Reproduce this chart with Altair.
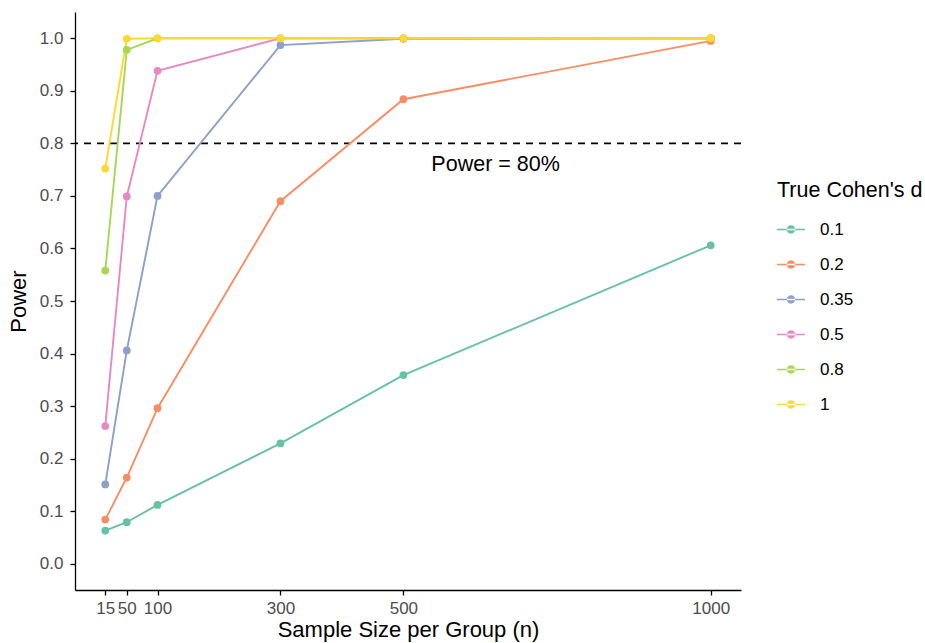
import altair as alt
import pandas as pd

# ---- data ----
sample_sizes = [15, 50, 100, 300, 500, 1000]
effect_labels = ["0.1", "0.2", "0.35", "0.5", "0.8", "1"]
power_d010 = [0.063, 0.079, 0.112, 0.229, 0.359, 0.606]
power_d020 = [0.084, 0.164, 0.296, 0.690, 0.884, 0.995]
power_d035 = [0.151, 0.406, 0.700, 0.987, 0.999, 1.000]
power_d050 = [0.262, 0.699, 0.938, 1.000, 1.000, 1.000]
power_d080 = [0.558, 0.978, 1.000, 1.000, 1.000, 1.000]
power_d100 = [0.752, 0.999, 1.000, 1.000, 1.000, 1.000]
palette = ["#66C2A5", "#FC8D62", "#8DA0CB", "#E78AC3", "#A6D854", "#FFD92F"]
y_ticks = [0.0, 0.1, 0.2, 0.3, 0.4, 0.5, 0.6, 0.7, 0.8, 0.9, 1.0]

series = [power_d010, power_d020, power_d035, power_d050, power_d080, power_d100]
rows = []
for lab, vals in zip(effect_labels, series):
    for n, p in zip(sample_sizes, vals):
        rows.append({"n": n, "power": p, "d": lab})
df = pd.DataFrame(rows)

FONT = "Liberation Sans"
x_scale = alt.Scale(domain=[-34.25, 1049.25], nice=False, zero=False)
y_scale = alt.Scale(domain=[-0.05, 1.05], nice=False, zero=False)

legend_path = ("M-1,-0.06L1,-0.06L1,0.06L-1,0.06Z "
               "M-0.3,0A0.3,0.3 0 1,0 0.3,0A0.3,0.3 0 1,0 -0.3,0Z")

color = alt.Color(
    "d:N",
    sort=effect_labels,
    scale=alt.Scale(domain=effect_labels, range=palette),
    legend=alt.Legend(
        title="True Cohen's d",
        orient="none",
        legendX=702,
        legendY=168,
        symbolType=legend_path,
        symbolSize=784,
        symbolStrokeWidth=0,
        symbolOpacity=1,
        rowPadding=13,
        labelOffset=15,
        titlePadding=14,
    ),
)

x_enc = alt.X(
    "n:Q",
    scale=x_scale,
    axis=alt.Axis(
        title="Sample Size per Group (n)",
        values=sample_sizes,
        format="d",
        grid=False,
        labelFlush=False,
        labelOverlap=False,
    ),
)
y_enc = alt.Y(
    "power:Q",
    scale=y_scale,
    axis=alt.Axis(
        title="Power",
        values=y_ticks,
        format=".1f",
        grid=False,
        labelFlush=False,
        labelOverlap=False,
    ),
)

points = alt.Chart(df).mark_point(filled=True, size=60, opacity=1).encode(x=x_enc, y=y_enc, color=color)
lines = alt.Chart(df).mark_line(strokeWidth=1.9).encode(x=x_enc, y=y_enc, color=color, detail="d:N")

hline = alt.Chart(pd.DataFrame({"y": [0.8]})).mark_rule(
    color="black", strokeWidth=1.7, strokeDash=[7, 6]
).encode(y=alt.Y("y:Q", scale=y_scale))

label = alt.Chart(pd.DataFrame({"x": [650], "y": [0.758], "t": ["Power = 80%"]})).mark_text(
    font=FONT, fontSize=21.5, color="black", baseline="middle", align="center"
).encode(x=alt.X("x:Q", scale=x_scale), y=alt.Y("y:Q", scale=y_scale), text="t:N")

chart = alt.layer(hline, lines, points, label).properties(
    width=666,
    height=578,
    autosize=alt.AutoSizeParams(type="none"),
    padding={"left": 75, "top": 12, "right": 184, "bottom": 53},
).configure_view(stroke=None).configure_axis(
    domainColor="black",
    domainWidth=1.3,
    tickColor="black",
    tickWidth=1.3,
    tickSize=5,
    labelFont=FONT,
    labelFontSize=17,
    labelColor="#4D4D4D",
    labelPadding=5,
    titleFont=FONT,
    titleFontSize=22,
    titleFontWeight="normal",
    titleColor="black",
).configure_axisY(titlePadding=9, labelPadding=7).configure_axisX(titlePadding=3).configure_legend(
    titleFont=FONT,
    titleFontSize=21.5,
    titleFontWeight="normal",
    titleColor="black",
    labelFont=FONT,
    labelFontSize=17,
    labelColor="black",
)

chart.save("out.html", embed_options={"renderer": "svg", "actions": False})
